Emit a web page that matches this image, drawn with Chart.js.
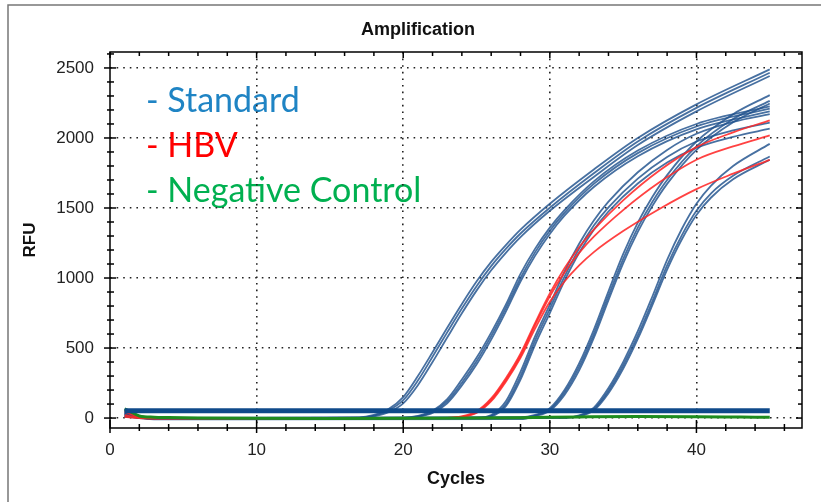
<!DOCTYPE html>
<html>
<head>
<meta charset="utf-8">
<script src="https://cdn.jsdelivr.net/npm/chart.js@4.4.1/dist/chart.umd.min.js"></script>
<style>
  html, body { margin: 0; padding: 0; background: #fff; }
  canvas { display: block; }
</style>
</head>
<body>
<canvas id="amp" width="821" height="502"></canvas>
<script>
// RFU per well, as [cycle, rfu]
const standardA1 = [[1,40],[2,10],[3,2],[17,4],[18,22],[19,65],[20,150],[21,300],[22,470],[23,645],[24,815],[25,975],[26,1115],[27,1235],[28,1345],[30,1530],[33,1775],[36,2000],[40,2240],[45,2490]];
const standardA2 = [[1,25],[2,5],[3,0],[17,3],[18,18],[19,55],[20,128],[21,268],[22,438],[23,612],[24,782],[25,942],[26,1085],[27,1208],[28,1318],[30,1502],[33,1748],[36,1975],[40,2215],[45,2466]];
const standardA3 = [[1,55],[2,12],[3,-6],[17,-4],[18,12],[19,42],[20,105],[21,235],[22,400],[23,575],[24,748],[25,910],[26,1055],[27,1180],[28,1292],[30,1480],[33,1722],[36,1950],[40,2190],[45,2443]];

const standardB1 = [[1,30],[2,4],[3,0],[20,3],[21,16],[22,52],[23,135],[24,275],[25,430],[26,610],[27,810],[28,1030],[29,1210],[30,1360],[31,1485],[33,1690],[36,1910],[40,2100],[45,2225]];
const standardB2 = [[1,60],[2,15],[3,2],[20,2],[21,12],[22,44],[23,120],[24,252],[25,405],[26,585],[27,785],[28,1000],[29,1185],[30,1338],[31,1465],[33,1672],[36,1892],[40,2082],[45,2210]];
const standardB3 = [[1,10],[2,0],[3,-8],[20,-6],[21,9],[22,36],[23,105],[24,232],[25,382],[26,560],[27,760],[28,975],[29,1160],[30,1315],[31,1445],[33,1650],[36,1870],[40,2062],[45,2190]];

const standardC1 = [[1,35],[2,6],[3,0],[25,3],[26,22],[27,120],[28,330],[29,585],[30,810],[31,1045],[32,1245],[33,1410],[34,1545],[36,1755],[38,1915],[40,2030],[42.5,2115],[45,2170]];
const standardC2 = [[1,15],[2,2],[3,-2],[25,2],[26,16],[27,100],[28,300],[29,555],[30,780],[31,1010],[32,1210],[33,1375],[34,1505],[36,1710],[38,1865],[40,1975],[42.5,2055],[45,2110]];
const standardC3 = [[1,50],[2,10],[3,1],[25,1],[26,12],[27,85],[28,275],[29,525],[30,750],[31,980],[32,1180],[33,1345],[34,1475],[36,1675],[38,1825],[40,1930],[42.5,2008],[45,2066]];

const standardD1 = [[1,28],[2,5],[3,0],[28,4],[29,22],[30,70],[31,200],[32,390],[33,630],[34,905],[35,1170],[36,1395],[37,1580],[38,1735],[40,1975],[42.5,2170],[45,2306]];
const standardD2 = [[1,48],[2,9],[3,-1],[28,3],[29,18],[30,60],[31,182],[32,365],[33,600],[34,872],[35,1135],[36,1360],[37,1545],[38,1700],[40,1940],[42.5,2135],[45,2265]];
const standardD3 = [[1,12],[2,1],[3,-9],[28,-7],[29,14],[30,52],[31,165],[32,340],[33,572],[34,842],[35,1105],[36,1330],[37,1515],[38,1672],[40,1915],[42.5,2112],[45,2246]];

const standardE1 = [[1,32],[2,6],[3,0],[31,4],[32,20],[33,75],[34,215],[35,400],[36,620],[37,870],[38,1130],[39,1350],[40,1530],[41,1660],[42.5,1800],[45,1958]];
const standardE2 = [[1,18],[2,3],[3,-2],[31,3],[32,16],[33,64],[34,195],[35,375],[36,590],[37,835],[38,1090],[39,1305],[40,1480],[41,1605],[42.5,1730],[45,1868]];
const standardE3 = [[1,62],[2,12],[3,1],[31,2],[32,12],[33,55],[34,178],[35,352],[36,565],[37,808],[38,1060],[39,1275],[40,1450],[41,1575],[42.5,1705],[45,1844]];

const hbv1 = [[1,20],[2,3],[3,0],[23,2],[24,12],[25,48],[26,140],[27,285],[28,460],[29,680],[30,890],[31,1070],[32,1220],[33,1345],[35,1555],[37.5,1770],[40,1935],[42.5,2040],[45,2126]];
const hbv2 = [[1,45],[2,8],[3,-2],[23,1],[24,10],[25,42],[26,130],[27,272],[28,445],[29,665],[30,870],[31,1040],[32,1180],[33,1295],[35,1485],[37.5,1685],[40,1845],[42.5,1940],[45,2018]];
const hbv3 = [[1,8],[2,0],[3,-4],[23,0],[24,8],[25,36],[26,120],[27,260],[28,430],[29,640],[30,830],[31,975],[32,1090],[33,1185],[35,1335],[37.5,1495],[40,1635],[42.5,1745],[45,1844]];

const flatWell = [[1,52],[45,52]];
const negativeControl = [[1,65],[1.5,40],[2,15],[3,6],[4,4],[6,1],[10,-2],[15,-3],[20,-2],[25,0],[28,3],[32,8],[36,11],[40,10],[43,7],[45,5]];

const xTickLabels = [0, 10, 20, 30, 40];
const yTickLabels = [0, 500, 1000, 1500, 2000, 2500];
const notes = [
  { text: '- Standard', color: '#1f84c4' },
  { text: '- HBV', color: '#ff0000' },
  { text: '- Negative Control', color: '#00b050' }
];

const FONT = '"Liberation Sans", Arial, sans-serif';
const BLUE = 'rgba(30, 80, 140, 0.82)';
const RED = 'rgba(255, 40, 40, 0.88)';
const GREEN = '#1e8c1e';

const toXY = pts => pts.map(p => ({ x: p[0], y: p[1] }));
const curve = (pts, color, order) => ({
  data: toXY(pts),
  borderColor: color,
  borderWidth: 1.8,
  order: order
});

const standards = [standardA1, standardA2, standardA3, standardB1, standardB2, standardB3,
  standardC1, standardC2, standardC3, standardD1, standardD2, standardD3,
  standardE1, standardE2, standardE3];
const hbv = [hbv1, hbv2, hbv3];

const datasets = [
  { data: toXY(flatWell), borderColor: '#0f4a8a', borderWidth: 5, order: 0 },
  { data: toXY(negativeControl), borderColor: GREEN, borderWidth: 3, order: 1 }
]
  .concat(hbv.map(s => curve(s, RED, 2)))
  .concat(standards.map(s => curve(s, BLUE, 3)));

// white page, window edge, title and colour notes (grid dots go over the notes)
const decor = {
  id: 'decor',
  beforeDraw(chart) {
    const ctx = chart.ctx;
    ctx.save();
    ctx.fillStyle = '#fff';
    ctx.fillRect(0, 0, chart.width, chart.height);
    ctx.strokeStyle = '#777';
    ctx.lineWidth = 1.5;
    ctx.beginPath();
    ctx.moveTo(8, chart.height);
    ctx.lineTo(8, 5);
    ctx.lineTo(chart.width, 5);
    ctx.stroke();

    ctx.fillStyle = '#111';
    ctx.font = 'bold 18px ' + FONT;
    ctx.textAlign = 'center';
    ctx.textBaseline = 'middle';
    ctx.fillText('Amplification', 418, 30);

    ctx.font = '34px Lato, "Open Sans", sans-serif';
    ctx.textAlign = 'left';
    ctx.textBaseline = 'alphabetic';
    notes.forEach((n, i) => {
      ctx.fillStyle = n.color;
      ctx.fillText(n.text, 146, 112 + i * 45);
    });
    ctx.restore();
  },
  afterDraw(chart) {
    const ctx = chart.ctx;
    const { left, right, top, bottom } = chart.chartArea;
    const xs = chart.scales.x, ys = chart.scales.y;
    ctx.save();
    ctx.strokeStyle = '#000';
    ctx.lineWidth = 1.5;
    ctx.strokeRect(left, top, right - left, bottom - top);
    const seg = (x1, y1, x2, y2) => { ctx.beginPath(); ctx.moveTo(x1, y1); ctx.lineTo(x2, y2); ctx.stroke(); };
    for (let v = 0; v <= 46; v += 2) {
      const px = xs.getPixelForValue(v);
      const major = v % 10 === 0;
      seg(px, bottom - (major ? 8 : 4), px, bottom + (major ? 5 : 3));
      seg(px, top, px, top + (major ? 6 : 4));
    }
    for (let v = 0; v <= 2600; v += 100) {
      const py = ys.getPixelForValue(v);
      const major = v % 500 === 0;
      seg(left - (major ? 6 : 3), py, left + (major ? 6 : 4), py);
      seg(right - (major ? 6 : 4), py, right, py);
    }
    ctx.restore();
  }
};

const gridColor = c => (c.tick && c.tick.value > 0 ? '#222' : 'transparent');

new Chart(document.getElementById('amp'), {
  type: 'line',
  data: { datasets: datasets },
  plugins: [decor],
  options: {
    responsive: false,
    animation: false,
    events: [],
    layout: { padding: { top: 52, right: 19, left: 0, bottom: 0 } },
    elements: {
      point: { radius: 0 },
      line: { cubicInterpolationMode: 'monotone', borderCapStyle: 'butt' }
    },
    plugins: { legend: { display: false }, tooltip: { enabled: false }, title: { display: false } },
    scales: {
      x: {
        type: 'linear',
        min: 0,
        max: 47.2,
        afterBuildTicks: s => { s.ticks = xTickLabels.map(v => ({ value: v })); },
        afterFit: s => { s.height = 74; },
        grid: { color: gridColor, lineWidth: 1.6, drawTicks: false },
        border: { display: false, dash: [1.6, 5] },
        ticks: { padding: 12, color: '#222', font: { family: FONT, size: 17 }, maxRotation: 0, autoSkip: false, callback: v => String(v) },
        title: { display: true, text: 'Cycles', color: '#111', font: { family: FONT, size: 18, weight: 'bold' }, padding: { top: 0, bottom: 12 } }
      },
      y: {
        type: 'linear',
        min: -71,
        max: 2614,
        afterBuildTicks: s => { s.ticks = yTickLabels.map(v => ({ value: v })); },
        afterFit: s => { s.width = 110; },
        grid: { color: c => (c.tick ? '#222' : 'transparent'), lineWidth: 1.6, drawTicks: false },
        border: { display: false, dash: [1.6, 5] },
        ticks: { padding: 16, color: '#222', font: { family: FONT, size: 17 }, callback: v => String(v) },
        title: { display: true, text: 'RFU', color: '#111', font: { family: FONT, size: 17, weight: 'bold' }, padding: { top: 20, bottom: 0 } }
      }
    }
  }
});
</script>
</body>
</html>
